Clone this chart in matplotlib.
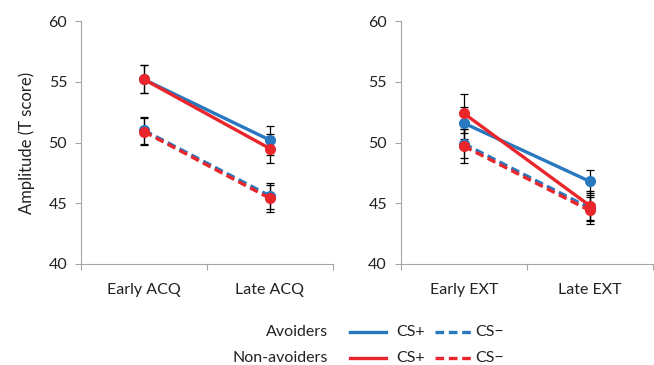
import numpy as np
import matplotlib.pyplot as plt
from matplotlib.lines import Line2D

plt.rcParams['font.family'] = ['Lato', 'DejaVu Sans']

acq_labels = ["Early ACQ", "Late ACQ"]
ext_labels = ["Early EXT", "Late EXT"]

# acquisition phase
acq_av_csp = [55.2, 50.2]
acq_av_csm = [51.0, 45.6]
acq_nav_csp = [55.2, 49.5]
acq_nav_csm = [50.9, 45.4]
acq_av_csp_err = [1.15, 1.2]
acq_av_csm_err = [1.1, 1.1]
acq_nav_csp_err = [1.15, 1.2]
acq_nav_csm_err = [1.1, 1.1]

# extinction phase
ext_av_csp = [51.6, 46.8]
ext_av_csm = [49.9, 44.6]
ext_nav_csp = [52.4, 44.8]
ext_nav_csm = [49.7, 44.4]
ext_av_csp_err = [1.3, 0.95]
ext_av_csm_err = [1.2, 1.1]
ext_nav_csp_err = [1.6, 1.2]
ext_nav_csm_err = [1.4, 1.1]

blue = "#2878c0"
red = "#e8262b"
gray = "#a6a6a6"
txt = "#222222"
fs = 11.5
dash = (2.6, 1.4)

fig = plt.figure(figsize=(6.54, 3.65), dpi=100)
ax1 = fig.add_axes([0.124, 0.277, 0.385, 0.665])
ax2 = fig.add_axes([0.613, 0.277, 0.385, 0.665])

def panel(ax, labels, series):
    x = np.array([0.5, 1.5])
    for vals, errs, color, ls in series:
        ax.errorbar(x, vals, yerr=errs, color=color, ls=ls, lw=2.4,
                    marker="o", ms=7, ecolor="black", elinewidth=0.9,
                    capsize=3, capthick=0.9, dashes=dash if ls == "--" else (None, None))
    ax.set_xlim(0, 2)
    ax.set_ylim(40, 60)
    ax.set_yticks([40, 45, 50, 55, 60])
    ax.set_xticks([0, 1, 2])
    ax.set_xticklabels([])
    ax.set_xticks(x, minor=True)
    ax.set_xticklabels(labels, minor=True)
    ax.tick_params(axis="x", which="minor", length=0, pad=14, labelsize=fs, labelcolor=txt)
    ax.tick_params(axis="x", which="major", length=4, color=gray, direction="out")
    ax.tick_params(axis="y", length=4, color=gray, labelsize=fs, labelcolor=txt, pad=6)
    for s in ["top", "right"]:
        ax.spines[s].set_visible(False)
    for s in ["left", "bottom"]:
        ax.spines[s].set_color(gray)

def draw_series(av_csp, av_csp_e, av_csm, av_csm_e, nav_csp, nav_csp_e, nav_csm, nav_csm_e):
    return [
        (av_csm, av_csm_e, blue, "--"),
        (nav_csm, nav_csm_e, red, "--"),
        (av_csp, av_csp_e, blue, "-"),
        (nav_csp, nav_csp_e, red, "-"),
    ]

panel(ax1, acq_labels, draw_series(acq_av_csp, acq_av_csp_err, acq_av_csm, acq_av_csm_err,
                                   acq_nav_csp, acq_nav_csp_err, acq_nav_csm, acq_nav_csm_err))
panel(ax2, ext_labels, draw_series(ext_av_csp, ext_av_csp_err, ext_av_csm, ext_av_csm_err,
                                   ext_nav_csp, ext_nav_csp_err, ext_nav_csm, ext_nav_csm_err))
ax1.set_ylabel("Amplitude (T score)", fontsize=12, color=txt, labelpad=10)

# legend
W, H = 654, 365
groups = ["Avoiders", "Non-avoiders"]
colors = [blue, red]
rows = [332, 358]
for g, c, yy in zip(groups, colors, rows):
    fy = 1 - yy / H
    fig.text(328 / W, fy, g, ha="right", va="center", fontsize=fs, color=txt)
    fig.add_artist(Line2D([350 / W, 386 / W], [fy, fy], color=c, lw=2.4))
    fig.text(396 / W, fy, "CS+", ha="left", va="center", fontsize=fs, color=txt)
    fig.add_artist(Line2D([435 / W, 472 / W], [fy, fy], color=c, lw=2.4, ls="--", dashes=dash))
    fig.text(475 / W, fy, "CS\u2212", ha="left", va="center", fontsize=fs, color=txt)

fig.savefig("out.png", dpi=100)
